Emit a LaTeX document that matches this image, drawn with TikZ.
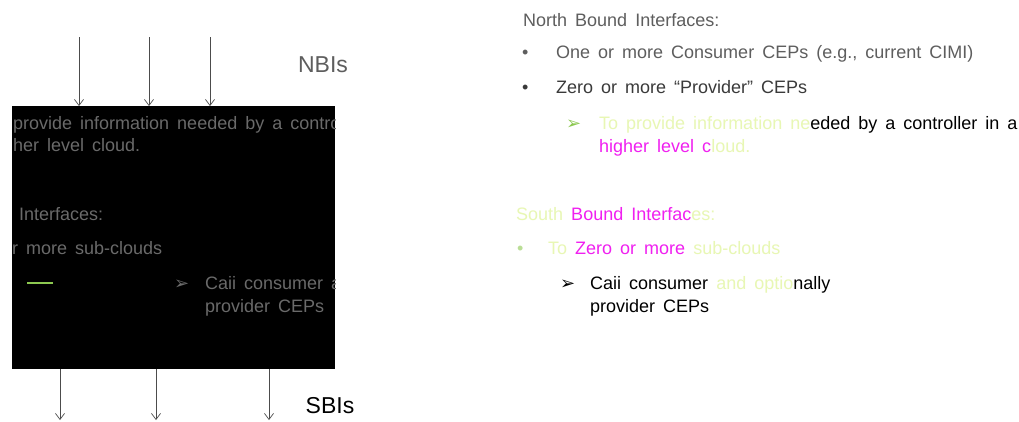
\documentclass[tikz,border=0pt]{standalone}
\usepackage{fontspec}
\setmainfont{Liberation Sans}[WordSpace=1.6]
\newfontfamily\symfont{DejaVu Sans}
\usetikzlibrary{arrows.meta}
\definecolor{txtgray}{HTML}{5E5E5E}
\definecolor{dkgray}{HTML}{3A3A3A}
\definecolor{boxtxt}{HTML}{6A6A6A}
\definecolor{pale}{HTML}{E8F7B4}
\definecolor{mag}{HTML}{F020F0}
\definecolor{grn}{HTML}{8CC850}
\begin{document}
\begin{tikzpicture}[x=1pt,y=-1pt,
  txt/.style={anchor=base west,inner sep=0pt,font=\fontsize{18}{22}\selectfont},
  lbl/.style={anchor=center,inner sep=0pt,font=\fontsize{23}{26}\selectfont},
  sym/.style={anchor=base west,inner sep=0pt,font=\symfont\fontsize{18}{20}\selectfont},
  conn/.style={draw=black!70,line width=0.7pt,-{Straight Barb[length=6pt,width=9pt,line width=0.7pt]}}]
\useasboundingbox (0,0) rectangle (1019,421);
\fill[white] (0,0) rectangle (1019,421);
% black box
\node[draw=none,fill=black,minimum width=323pt,minimum height=263pt,inner sep=0pt,anchor=north west] (box) at (12,106) {};
% clipped gray text inside box
\begin{scope}
\clip (box.north west) rectangle (box.south east);
\node[txt,text=boxtxt] (b1) at (13,129) {\llap{To }provide information needed by a controller in a};
\node[txt,text=boxtxt] (b2) at (13,151) {\llap{hig}her level cloud.};
\node[txt,text=boxtxt] (b3) at (19,220) {\llap{South Bound }Interfaces:};
\node[txt,text=boxtxt] (b4) at (12,254) {\llap{To Zero o}r more sub-clouds};
\node[sym,text=boxtxt] (b5a) at (174,289) {➢};
\node[txt,text=boxtxt] (b5) at (205,289) {Caii consumer and optionally};
\node[txt,text=boxtxt] (b6) at (205,312) {provider CEPs};
\coordinate (g1) at (27,283); \coordinate (g2) at (53,283);
\draw[grn,line width=1.2pt] (g1) -- (g2);
\end{scope}
% arrows in
\coordinate (t1) at (79,37); \coordinate (t2) at (149,37); \coordinate (t3) at (210,37);
\draw[conn] (t1) -- (t1 |- box.north);
\draw[conn] (t2) -- (t2 |- box.north);
\draw[conn] (t3) -- (t3 |- box.north);
% arrows out
\coordinate (s1) at (60,420); \coordinate (s2) at (156,420); \coordinate (s3) at (269,420);
\draw[conn] (s1 |- box.south) -- (s1);
\draw[conn] (s2 |- box.south) -- (s2);
\draw[conn] (s3 |- box.south) -- (s3);
\node[lbl,text=txtgray] (nbi) at (323,65) {NBIs};
\node[lbl,text=black] (sbi) at (330,406) {SBIs};
% right-hand text
\node[txt,text=txtgray] (nt) at (523,26) {North Bound Interfaces:};
\node[txt,text=txtgray] (nb1) at (522,58) {•};
\node[txt,text=txtgray] (n1) at (556,58) {One or more Consumer CEPs (e.g., current CIMI)};
\node[txt,text=dkgray] (nb2) at (522,93) {•};
\node[txt,text=dkgray] (n2) at (556,93) {Zero or more “Provider” CEPs};
\node[sym,text=grn] (nb3) at (566,129) {➢};
\node[txt] (n3) at (599,129) {\color{pale}To provide information ne\color{black}eded by a controller in a};
\node[txt] (n4) at (599,152) {\color{mag}higher level c\color{pale}loud.};
\node[txt] (st) at (516,220) {\color{pale}South \color{mag}Bound Interfac\color{pale}es:};
\node[txt,text=grn!60] (sb1) at (517,254) {•};
\node[txt] (s1t) at (548,254) {\color{pale}To \color{mag}Zero or more \color{pale}sub-clouds};
\node[sym,text=black] (sb2) at (560,289) {➢};
\node[txt] (s2t) at (590,289) {\color{black}Caii consumer \color{pale}and optio\color{black}nally};
\node[txt,text=black] (s3t) at (590,312) {provider CEPs};
\end{tikzpicture}
\end{document}
